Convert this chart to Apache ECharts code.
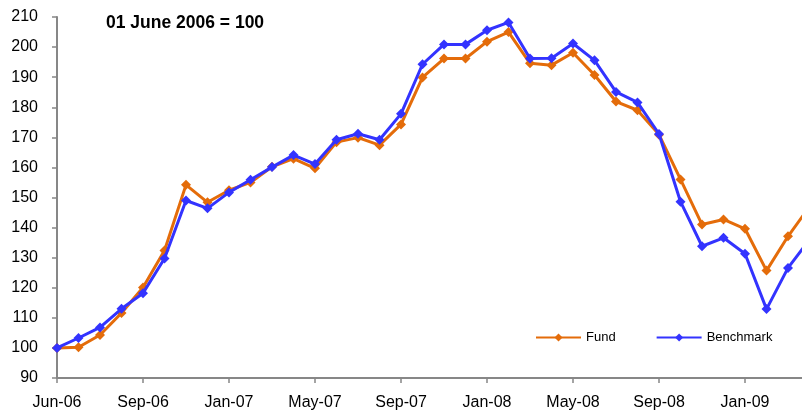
<!DOCTYPE html>
<html>
<head>
<meta charset="utf-8">
<script src="https://cdn.jsdelivr.net/npm/echarts@6/dist/echarts.min.js"></script>
<style>html,body{margin:0;padding:0;background:#fff}#c{width:802px;height:414px}</style>
</head>
<body>
<div id="c"></div>
<script>
// Monthly observations, index 0 = 01 June 2006, then month ends
var tickLabels = ['Jun-06','Sep-06','Jan-07','May-07','Sep-07','Jan-08','May-08','Sep-08','Jan-09'];
var fund = [100,100.2,104.3,111.6,120.1,132.4,154.2,148.4,152.4,155,160.2,162.9,159.7,168.4,169.9,167.4,174.3,189.9,196.2,196.2,201.8,205,194.6,194,198.1,190.7,181.9,179,170.9,156,141,142.7,139.6,125.7,137.1,147];
var benchmark = [100,103.3,106.8,113,118.2,129.7,149,146.4,151.7,155.9,160.1,164.1,161.1,169.2,171.2,169.2,177.8,194.3,200.9,200.9,205.6,208.2,196.2,196.3,201.2,195.6,185.1,181.6,171.1,148.6,133.8,136.6,131.3,112.9,126.6,136];

function pairs(arr){ return arr.map(function(v,i){ return [i,v]; }); }
var tickPos = tickLabels.map(function(_,k){ return k*4; });

var chart = echarts.init(document.getElementById('c'), null, {renderer:'canvas'});
chart.setOption({
  animation:false,
  backgroundColor:'#ffffff',
  textStyle:{fontFamily:'Liberation Sans, Arial, sans-serif'},
  title:{text:'01 June 2006 = 100', left:101, top:9,
    textStyle:{fontSize:17.5, fontWeight:'bold', color:'#000', fontFamily:'Liberation Sans, Arial, sans-serif'}},
  legend:{left:530, top:326, itemWidth:45, itemHeight:10, itemGap:40,
    textStyle:{fontSize:13, color:'#000', fontFamily:'Liberation Sans, Arial, sans-serif'},
    data:['Fund','Benchmark']},
  grid:{left:57, right:0, top:17, bottom:36, containLabel:false},
  xAxis:{type:'value', min:0, max:34.65, interval:4,
    splitLine:{show:false},
    axisLine:{lineStyle:{color:'#878787', width:2}},
    axisTick:{show:true, length:5, lineStyle:{color:'#878787', width:1.5}, customValues:tickPos},
    axisLabel:{fontSize:16, color:'#000', margin:17, customValues:tickPos,
      formatter:function(v){ var k=Math.round(v/4); return (Math.abs(v-k*4)<1e-6 && tickLabels[k])?tickLabels[k]:''; }}
  },
  yAxis:{type:'value', min:90, max:210, interval:10,
    splitLine:{show:false},
    axisLine:{show:true, lineStyle:{color:'#878787', width:2}},
    axisTick:{show:true, length:5, lineStyle:{color:'#878787', width:1.5}},
    axisLabel:{fontSize:16, color:'#000', margin:19}
  },
  series:[
    {name:'Fund', type:'line', data:pairs(fund), symbol:'diamond', symbolSize:10,
      clip:true, z:2,
      lineStyle:{color:'#E46C0A', width:3}, itemStyle:{color:'#E46C0A'}},
    {name:'Benchmark', type:'line', data:pairs(benchmark), symbol:'diamond', symbolSize:10,
      clip:true, z:3,
      lineStyle:{color:'#3333FF', width:3}, itemStyle:{color:'#3333FF'}}
  ]
});
</script>
</body>
</html>
